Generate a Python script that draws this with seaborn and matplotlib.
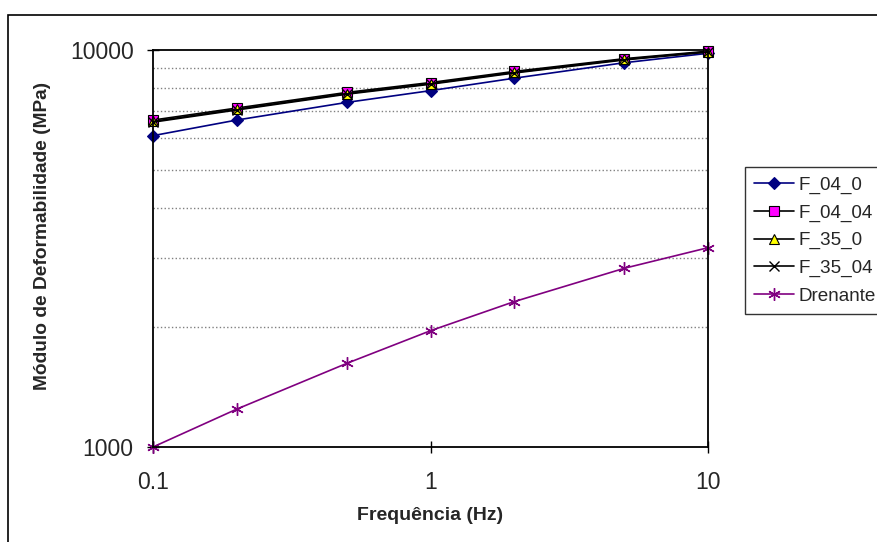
import matplotlib
matplotlib.use("Agg")
import matplotlib.pyplot as plt
import matplotlib.ticker as mticker
from matplotlib.patches import Rectangle
import numpy as np
import pandas as pd
import seaborn as sns

# data
freq = [0.1, 0.2, 0.5, 1, 2, 5, 10]
f_04_0 = [6085, 6660, 7380, 7900, 8490, 9290, 9810]
f_04_04 = [6660, 7140, 7820, 8280, 8830, 9510, 9930]
f_35_0 = [6610, 7090, 7770, 8230, 8780, 9470, 9900]
f_35_04 = [6580, 7060, 7740, 8200, 8750, 9440, 9880]
drenante = [1000, 1245, 1625, 1963, 2323, 2820, 3177]

series = {"F_04_0": f_04_0, "F_04_04": f_04_04, "F_35_0": f_35_0,
          "F_35_04": f_35_04, "Drenante": drenante}
df = pd.concat([pd.DataFrame({"freq": freq, "mod": v, "serie": k}) for k, v in series.items()])

sns.set_style("white")
plt.rcParams["font.family"] = ["Liberation Sans", "DejaVu Sans"]

fig = plt.figure(figsize=(8.77, 5.42), dpi=100)
ax = fig.add_axes([153/877, 1-447/542, (708-153)/877, (447-50)/542])

styles = {
    "F_04_0": dict(color="#000080", marker="D", markersize=6, markerfacecolor="#000080", markeredgecolor="#000080"),
    "F_04_04": dict(color="black", marker="s", markersize=7, markerfacecolor="#FF00FF", markeredgecolor="black"),
    "F_35_0": dict(color="black", marker="^", markersize=7, markerfacecolor="#FFFF00", markeredgecolor="black"),
    "F_35_04": dict(color="black", marker="x", markersize=7, markeredgecolor="black", markeredgewidth=1),
    "Drenante": dict(color="#800080", marker=(6, 2, 0), markersize=9, markeredgecolor="#800080", markeredgewidth=1),
}
for name in series:
    sub = df[df["serie"] == name]
    st = styles[name]
    sns.lineplot(data=sub, x="freq", y="mod", ax=ax, label=name, linewidth=1.2,
                 color=st["color"], marker=st["marker"], markersize=st["markersize"],
                 markerfacecolor=st.get("markerfacecolor", "none"),
                 markeredgecolor=st["markeredgecolor"],
                 markeredgewidth=st.get("markeredgewidth", 0.8), clip_on=False)

ax.set_xscale("log")
ax.set_yscale("log")
ax.set_xlim(0.1, 10)
ax.set_ylim(1000, 10000)
ax.xaxis.set_major_locator(mticker.FixedLocator([0.1, 1, 10]))
ax.xaxis.set_major_formatter(mticker.FixedFormatter(["0.1", "1", "10"]))
ax.xaxis.set_minor_locator(mticker.NullLocator())
ax.yaxis.set_major_locator(mticker.FixedLocator([1000, 10000]))
ax.yaxis.set_major_formatter(mticker.FixedFormatter(["1000", "10000"]))
ax.yaxis.set_minor_locator(mticker.FixedLocator([2000, 3000, 4000, 5000, 6000, 7000, 8000, 9000]))
ax.yaxis.set_minor_formatter(mticker.NullFormatter())
ax.grid(False)
ax.grid(True, which="minor", axis="y", linestyle=":", color="#808080", linewidth=1)
ax.tick_params(axis="both", which="major", direction="inout", length=8, width=1,
               labelsize=16.5, color="black", left=True, bottom=True)
ax.tick_params(axis="y", which="major", pad=10)
ax.tick_params(axis="x", which="major", pad=13)
ax.tick_params(axis="y", which="minor", length=0)
for s in ax.spines.values():
    s.set_color("black")
    s.set_linewidth(1.3)
ax.set_axisbelow(True)

ax.set_xlabel("Frequência (Hz)", fontsize=14, fontweight="bold")
ax.set_ylabel("Módulo de Deformabilidade (MPa)", fontsize=13.8, fontweight="bold")
ax.xaxis.set_label_coords(0.5, 1 - (507 - 50) / 397, transform=ax.transAxes)
ax.yaxis.set_label_coords((51 - 153) / 555, (447 - 236) / 397, transform=ax.transAxes)

ax.get_legend().remove()
h, l = ax.get_legend_handles_labels()
leg = fig.legend(h, l, loc="upper left", bbox_to_anchor=(745/877, 1-167/542),
                 frameon=True, fancybox=False, shadow=False, fontsize=13.6,
                 handlelength=2.1, handletextpad=0.22, labelspacing=0.55,
                 borderpad=0.5, borderaxespad=0)
leg.get_frame().set_edgecolor("black")
leg.get_frame().set_linewidth(1)

fig.patches.append(Rectangle((8/877, -0.05), 1.1, 1.05 - 15/542, transform=fig.transFigure,
                             fill=False, edgecolor="black", linewidth=1.2))

fig.savefig("out.png", dpi=100)
